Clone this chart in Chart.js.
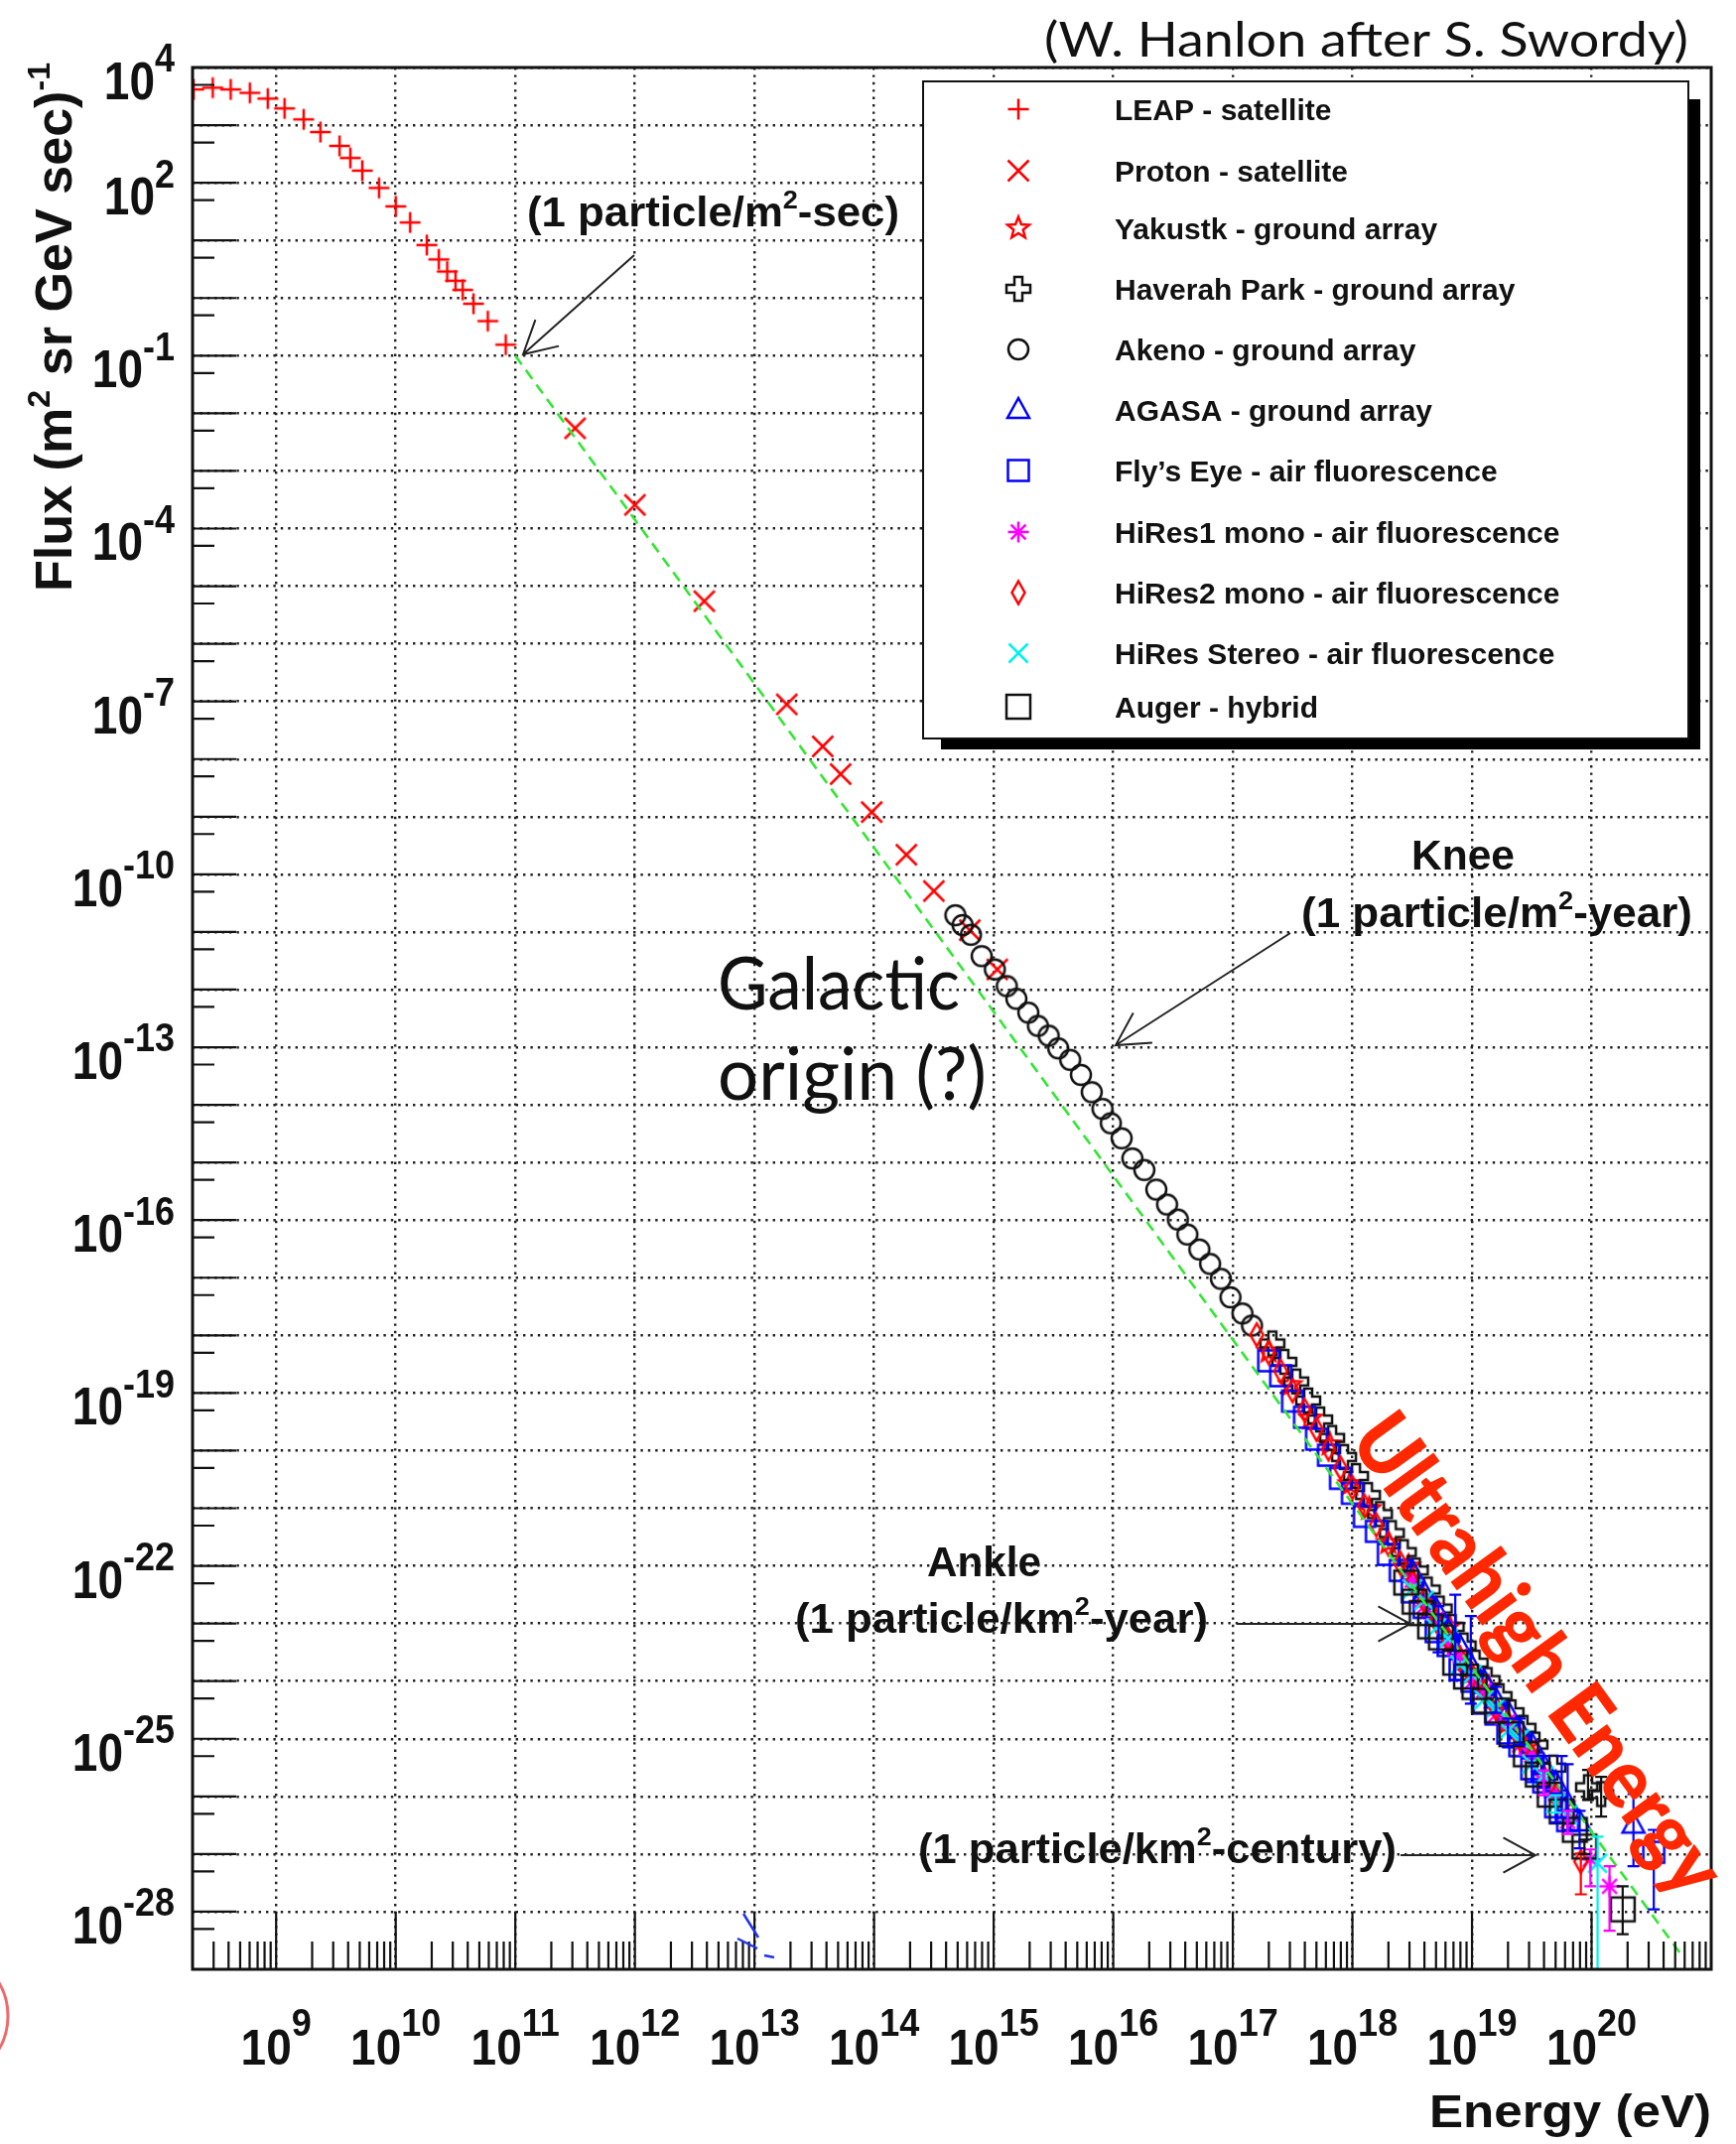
<!DOCTYPE html>
<html>
<head>
<meta charset="utf-8">
<title>Cosmic ray energy spectrum</title>
<script src="https://cdn.jsdelivr.net/npm/chart.js@4.4.1/dist/chart.umd.min.js"></script>
<style>
  html, body { margin: 0; padding: 0; background: #fff; }
  #wrap { width: 1749px; height: 2160px; }
</style>
</head>
<body>
<div id="wrap"><canvas id="fluxChart" width="1749" height="2160"></canvas></div>
<script>
// values as log10(E / eV) and log10(flux)
var leapLogE = [8.31, 8.47, 8.62, 8.78, 8.93, 9.07, 9.23, 9.37, 9.53, 9.62, 9.72, 9.86, 10.00, 10.12, 10.26, 10.36, 10.43, 10.50, 10.56, 10.65, 10.77, 10.92];
var leapLogFlux = [3.62, 3.65, 3.62, 3.56, 3.46, 3.29, 3.10, 2.88, 2.64, 2.43, 2.21, 1.91, 1.59, 1.31, 0.92, 0.67, 0.46, 0.30, 0.14, -0.10, -0.40, -0.81];

var protonLogE = [11.50, 12.00, 12.58, 13.27, 13.57, 13.72, 13.98, 14.27, 14.50, 14.80, 15.03];
var protonLogFlux = [-2.26, -3.59, -5.26, -7.05, -7.78, -8.26, -8.92, -9.66, -10.29, -10.97, -11.65];

var yakutskLogE = [17.30, 17.48, 17.65, 17.81, 17.98, 18.14, 18.30, 18.47, 18.64, 18.81, 18.97, 19.14, 19.30, 19.47, 19.60, 19.76];
var yakutskLogFlux = [-18.28, -18.86, -19.44, -19.89, -20.58, -21.01, -21.60, -22.01, -22.72, -23.05, -23.85, -24.11, -24.72, -25.11, -25.64, -26.15];

var haverahLogE = [17.33, 17.43, 17.53, 17.63, 17.73, 17.83, 17.93, 18.03, 18.13, 18.23, 18.33, 18.43, 18.53, 18.63, 18.73, 18.83, 18.93, 19.03, 19.13, 19.23, 19.33, 19.43, 19.53, 19.68, 19.97, 20.08];
var haverahLogFlux = [-18.14, -18.46, -18.80, -19.13, -19.46, -19.78, -20.11, -20.44, -20.77, -21.10, -21.43, -21.76, -22.08, -22.41, -22.74, -23.06, -23.38, -23.68, -23.98, -24.26, -24.54, -24.81, -25.10, -25.50, -25.84, -25.96];

var akenoLogE = [14.68, 14.74, 14.81, 14.90, 15.01, 15.11, 15.19, 15.29, 15.37, 15.46, 15.54, 15.64, 15.73, 15.82, 15.91, 15.98, 16.07, 16.16, 16.26, 16.36, 16.45, 16.54, 16.62, 16.72, 16.81, 16.90, 16.98, 17.08, 17.16];
var akenoLogFlux = [-10.71, -10.88, -11.05, -11.42, -11.65, -11.94, -12.16, -12.40, -12.63, -12.80, -13.02, -13.22, -13.48, -13.78, -14.07, -14.32, -14.58, -14.93, -15.13, -15.47, -15.73, -15.99, -16.25, -16.51, -16.76, -17.02, -17.34, -17.62, -17.83];

var agasaLogE = [18.5, 18.6, 18.7, 18.8, 18.9, 19.0, 19.1, 19.2, 19.3, 19.4, 19.5, 19.6, 19.7, 19.8, 19.9, 20.35];
var agasaLogFlux = [-22.10, -22.47, -22.76, -23.12, -23.40, -23.76, -24.00, -24.32, -24.54, -24.85, -25.10, -25.47, -25.76, -26.12, -26.45, -26.49];

var flysEyeLogE = [17.3, 17.4, 17.5, 17.6, 17.7, 17.8, 17.9, 18.0, 18.1, 18.2, 18.3, 18.4, 18.5, 18.6, 18.7, 18.8, 18.9, 19.0, 19.1, 19.2, 19.3, 19.4, 19.5, 19.6, 19.7, 19.8, 20.52];
var flysEyeLogFlux = [-18.44, -18.70, -19.14, -19.42, -19.80, -20.08, -20.48, -20.74, -21.14, -21.40, -21.80, -22.08, -22.45, -22.72, -23.14, -23.38, -23.80, -24.00, -24.38, -24.57, -24.90, -25.12, -25.52, -25.75, -26.18, -26.42, -26.97];

var hires1LogE = [18.5, 18.6, 18.7, 18.8, 18.9, 19.0, 19.1, 19.2, 19.3, 19.4, 19.5, 19.6, 19.7, 19.8, 19.99, 20.15];
var hires1LogFlux = [-22.25, -22.70, -22.92, -23.38, -23.56, -24.01, -24.16, -24.58, -24.70, -25.11, -25.28, -25.76, -25.95, -26.43, -27.09, -27.56];

var hires2LogE = [17.2, 17.3, 17.4, 17.5, 17.6, 17.7, 17.8, 17.9, 18.0, 18.1, 18.2, 18.3, 18.4, 18.5, 18.6, 18.7, 18.8, 18.9, 19.0, 19.1, 19.2, 19.3, 19.4, 19.5, 19.7, 19.91];
var hires2LogFlux = [-17.99, -18.30, -18.62, -18.96, -19.30, -19.63, -19.97, -20.30, -20.64, -20.96, -21.29, -21.62, -21.95, -22.28, -22.60, -22.95, -23.27, -23.60, -23.90, -24.18, -24.47, -24.72, -25.00, -25.30, -25.98, -27.13];

var stereoLogE = [18.5, 18.6, 18.7, 18.8, 18.9, 19.0, 19.1, 19.2, 19.3, 19.4, 19.5, 19.6, 19.7, 19.8, 20.05];
var stereoLogFlux = [-22.40, -22.60, -23.08, -23.26, -23.72, -23.89, -24.32, -24.46, -24.86, -25.00, -25.44, -25.64, -26.12, -26.32, -27.16];

var augerLogE = [18.45, 18.52, 18.58, 18.65, 18.74, 18.86, 18.95, 19.02, 19.10, 19.21, 19.33, 19.45, 19.55, 19.65, 19.75, 19.86, 19.94, 20.26];
var augerLogFlux = [-22.29, -22.62, -22.82, -23.05, -23.24, -23.68, -23.92, -24.10, -24.34, -24.51, -24.92, -25.27, -25.62, -25.97, -26.26, -26.58, -26.87, -27.96];

// error bars: [log10 E, log10 upper flux, log10 lower flux]
var flysEyeErr = [[18.72, -22.70, -23.50], [18.86, -22.50, -23.98], [18.99, -22.87, -24.39], [19.3, -24.65, -25.15], [19.5, -25.30, -25.75], [19.7, -25.95, -26.45], [20.52, -26.58, -27.96]];
var agasaErr = [[19.2, -24.10, -24.55], [19.4, -24.65, -25.10], [19.6, -25.30, -25.85], [19.75, -25.30, -26.37], [19.80, -25.44, -26.58], [19.9, -26.25, -26.90], [20.35, -25.96, -27.21]];
var haverahErr = [[19.97, -25.54, -26.06], [20.08, -25.66, -26.35]];
var hires1Err = [[19.6, -25.55, -25.98], [19.8, -26.25, -26.65], [19.99, -26.92, -27.56], [20.15, -27.21, -28.33]];
var hires2Err = [[19.91, -26.99, -27.70]];
var stereoErr = [[19.7, -25.98, -26.28], [20.05, -26.70, -29.50]];
var augerErr = [[19.94, -26.75, -27.00], [20.26, -27.56, -28.39]];

// dashed E^-2.85 reference line, two end points
var powerLawE = [1e11, 5.5e20];
var powerLawFlux = [1e-1, 1.9e-29];

var xTickExp = [9, 10, 11, 12, 13, 14, 15, 16, 17, 18, 19, 20];
var yTickExp = [4, 2, -1, -4, -7, -10, -13, -16, -19, -22, -25, -28];

var RED = '#ff0000', BLUE = '#0000ff', BLACK = '#111111', MAGENTA = '#ff00ff', CYAN = '#00f0f0';

function makeMarker(kind, color) {
  var size = 36;
  var c = document.createElement('canvas');
  c.width = size; c.height = size;
  var g = c.getContext('2d');
  g.translate(size / 2, size / 2);
  g.strokeStyle = color;
  g.lineWidth = 2.5;
  g.lineJoin = 'miter';
  g.beginPath();
  var i, r, ang;
  if (kind === 'plus') {
    g.moveTo(-10.5, 0); g.lineTo(10.5, 0); g.moveTo(0, -10.5); g.lineTo(0, 10.5);
  } else if (kind === 'cross') {
    g.moveTo(-10.5, -10.5); g.lineTo(10.5, 10.5); g.moveTo(10.5, -10.5); g.lineTo(-10.5, 10.5);
  } else if (kind === 'smallcross') {
    g.moveTo(-9.5, -9.5); g.lineTo(9.5, 9.5); g.moveTo(9.5, -9.5); g.lineTo(-9.5, 9.5);
  } else if (kind === 'circle') {
    g.arc(0, 0, 10, 0, Math.PI * 2);
  } else if (kind === 'square') {
    g.rect(-10.5, -10.5, 21, 21);
  } else if (kind === 'bigsquare') {
    g.rect(-12, -12, 24, 24);
  } else if (kind === 'triangle') {
    g.moveTo(0, -12); g.lineTo(11, 8); g.lineTo(-11, 8); g.closePath();
  } else if (kind === 'diamond') {
    g.moveTo(0, -11.5); g.lineTo(6.5, 0); g.lineTo(0, 11.5); g.lineTo(-6.5, 0); g.closePath();
  } else if (kind === 'asterisk') {
    for (i = 0; i < 4; i++) {
      ang = i * Math.PI / 4;
      g.moveTo(-10.5 * Math.cos(ang), -10.5 * Math.sin(ang));
      g.lineTo(10.5 * Math.cos(ang), 10.5 * Math.sin(ang));
    }
  } else if (kind === 'star') {
    for (i = 0; i < 10; i++) {
      r = i % 2 === 0 ? 11.5 : 5;
      ang = -Math.PI / 2 + i * Math.PI / 5;
      if (i === 0) g.moveTo(r * Math.cos(ang), r * Math.sin(ang));
      else g.lineTo(r * Math.cos(ang), r * Math.sin(ang));
    }
    g.closePath();
  } else if (kind === 'opencross') {
    var a = 4, b = 12;
    var pts = [[-a, -b], [a, -b], [a, -a], [b, -a], [b, a], [a, a], [a, b], [-a, b], [-a, a], [-b, a], [-b, -a], [-a, -a]];
    pts.forEach(function (p, k) { if (k === 0) g.moveTo(p[0], p[1]); else g.lineTo(p[0], p[1]); });
    g.closePath();
  }
  g.stroke();
  return c;
}

var series = [
  { label: 'LEAP - satellite', e: leapLogE, f: leapLogFlux, marker: makeMarker('plus', RED) },
  { label: 'Proton - satellite', e: protonLogE, f: protonLogFlux, marker: makeMarker('cross', RED) },
  { label: 'Yakustk - ground array', e: yakutskLogE, f: yakutskLogFlux, marker: makeMarker('star', RED) },
  { label: 'Haverah Park - ground array', e: haverahLogE, f: haverahLogFlux, marker: makeMarker('opencross', BLACK), err: haverahErr, color: BLACK },
  { label: 'Akeno - ground array', e: akenoLogE, f: akenoLogFlux, marker: makeMarker('circle', BLACK) },
  { label: 'AGASA - ground array', e: agasaLogE, f: agasaLogFlux, marker: makeMarker('triangle', BLUE), err: agasaErr, color: BLUE },
  { label: 'Fly\u2019s Eye - air fluorescence', e: flysEyeLogE, f: flysEyeLogFlux, marker: makeMarker('square', BLUE), err: flysEyeErr, color: BLUE },
  { label: 'HiRes1 mono - air fluorescence', e: hires1LogE, f: hires1LogFlux, marker: makeMarker('asterisk', MAGENTA), err: hires1Err, color: MAGENTA },
  { label: 'HiRes2 mono - air fluorescence', e: hires2LogE, f: hires2LogFlux, marker: makeMarker('diamond', RED), err: hires2Err, color: RED },
  { label: 'HiRes Stereo - air fluorescence', e: stereoLogE, f: stereoLogFlux, marker: makeMarker('smallcross', CYAN), err: stereoErr, color: CYAN },
  { label: 'Auger - hybrid', e: augerLogE, f: augerLogFlux, marker: makeMarker('bigsquare', BLACK), err: augerErr, color: BLACK }
];

function toPoints(logE, logF) {
  return logE.map(function (e, i) { return { x: Math.pow(10, e), y: Math.pow(10, logF[i]) }; });
}

// text with superscripts; parts = [[text, isSup], ...]
function drawRich(ctx, parts, x, y, o) {
  var fam = o.family || 'Liberation Sans';
  var weight = (o.weight || (o.bold === false ? 'normal' : 'bold')) + ' ';
  var supSize = o.supSize || Math.round(o.size * 0.62);
  var rise = o.rise || o.size * 0.42;
  function font(sup) { return weight + (sup ? supSize : o.size) + 'px "' + fam + '"'; }
  var nat = 0;
  parts.forEach(function (p) { ctx.font = font(p[1]); nat += ctx.measureText(p[0]).width; });
  var sx = o.width ? o.width / nat : 1;
  var total = nat * sx;
  var x0 = o.align === 'center' ? x - total / 2 : (o.align === 'right' ? x - total : x);
  ctx.save();
  ctx.translate(x0, y);
  ctx.scale(sx, o.vscale || 1);
  ctx.fillStyle = o.color || '#111';
  ctx.textAlign = 'left';
  ctx.textBaseline = 'alphabetic';
  var cx = 0;
  parts.forEach(function (p) {
    ctx.font = font(p[1]);
    ctx.fillText(p[0], cx, p[1] ? -rise : 0);
    cx += ctx.measureText(p[0]).width;
  });
  ctx.restore();
}

function drawArrow(ctx, x1, y1, x2, y2) {
  var ang = Math.atan2(y2 - y1, x2 - x1), len = 37, spread = 0.5;
  ctx.beginPath();
  ctx.moveTo(x1, y1); ctx.lineTo(x2, y2);
  ctx.moveTo(x2 - len * Math.cos(ang - spread), y2 - len * Math.sin(ang - spread));
  ctx.lineTo(x2, y2);
  ctx.lineTo(x2 - len * Math.cos(ang + spread), y2 - len * Math.sin(ang + spread));
  ctx.stroke();
}

var decorations = {
  id: 'decorations',
  beforeDraw: function (chart) {
    var ctx = chart.ctx;
    ctx.save();
    ctx.fillStyle = '#fff';
    ctx.fillRect(0, 0, chart.width, chart.height);
    ctx.restore();
  },
  afterDatasetsDraw: function (chart) {
    var ctx = chart.ctx, xs = chart.scales.x, ys = chart.scales.y, area = chart.chartArea;
    ctx.save();
    series.forEach(function (s) {
      if (!s.err) return;
      ctx.strokeStyle = s.color;
      ctx.lineWidth = 2.2;
      s.err.forEach(function (b) {
        var x = xs.getPixelForValue(Math.pow(10, b[0]));
        var yTop = ys.getPixelForValue(Math.pow(10, b[1]));
        var yBot = ys.getPixelForValue(Math.pow(10, b[2]));
        ctx.beginPath();
        ctx.moveTo(x, yTop); ctx.lineTo(x, Math.min(yBot, area.bottom));
        ctx.moveTo(x - 6, yTop); ctx.lineTo(x + 6, yTop);
        if (yBot < area.bottom) { ctx.moveTo(x - 6, yBot); ctx.lineTo(x + 6, yBot); }
        ctx.stroke();
      });
    });
    ctx.restore();
  },
  afterDraw: function (chart) {
    var ctx = chart.ctx, xs = chart.scales.x, ys = chart.scales.y, a = chart.chartArea;
    var p, k, d, v, yy, xx;
    ctx.save();

    // frame and inward ticks
    ctx.strokeStyle = '#111';
    ctx.lineWidth = 2.2;
    ctx.beginPath();
    for (p = -28; p <= 4; p++) {
      yy = ys.getPixelForValue(Math.pow(10, p));
      ctx.moveTo(a.left, yy); ctx.lineTo(a.left + 44, yy);
      yy = ys.getPixelForValue(5 * Math.pow(10, p - 1));
      if (yy > a.top && yy < a.bottom) { ctx.moveTo(a.left, yy); ctx.lineTo(a.left + 22, yy); }
    }
    for (d = 8; d <= 20; d++) {
      for (k = 1; k <= 9; k++) {
        v = k * Math.pow(10, d);
        if (v <= xs.min || v >= xs.max) continue;
        xx = xs.getPixelForValue(v);
        ctx.moveTo(xx, a.bottom); ctx.lineTo(xx, a.bottom - (k === 1 ? 58 : 28));
      }
    }
    ctx.stroke();
    ctx.lineWidth = 3;
    ctx.strokeRect(a.left, a.top, a.right - a.left, a.bottom - a.top);

    // tick labels
    yTickExp.forEach(function (e) {
      var y = ys.getPixelForValue(Math.pow(10, e));
      drawRich(ctx, [['10', 0], [String(e), 1]], 176, y + 32, { size: 46, supSize: 36, rise: 24, align: 'right', vscale: 1.15 });
    });
    xTickExp.forEach(function (e) {
      var x = xs.getPixelForValue(Math.pow(10, e));
      drawRich(ctx, [['10', 0], [String(e), 1]], x, 2080, { size: 46, supSize: 36, rise: 26, align: 'center', vscale: 1.1 });
    });

    // axis titles
    drawRich(ctx, [['Energy (eV)', 0]], a.right, 2143, { size: 46, align: 'right', width: 284 });
    ctx.save();
    ctx.translate(72, 596);
    ctx.rotate(-Math.PI / 2);
    drawRich(ctx, [['Flux (m', 0], ['2', 1], [' sr GeV sec)', 0], ['-1', 1]], 0, 0, { size: 52, width: 533 });
    ctx.restore();

    // legend
    ctx.fillStyle = '#000';
    ctx.fillRect(948, 100, 765, 655);
    ctx.fillStyle = '#fff';
    ctx.fillRect(930, 82, 771, 662);
    ctx.lineWidth = 2;
    ctx.strokeStyle = '#111';
    ctx.strokeRect(930, 82, 771, 662);
    var rows = [110, 172, 230, 291, 352, 413, 474, 536, 597, 658, 712];
    series.forEach(function (s, i) {
      ctx.drawImage(s.marker, 1026 - s.marker.width / 2, rows[i] - s.marker.height / 2);
      drawRich(ctx, [[s.label, 0]], 1123, rows[i] + 11, { size: 30 });
    });

    // annotations
    ctx.strokeStyle = '#222';
    ctx.lineWidth = 2;
    drawArrow(ctx, 639, 257, 527, 357);
    drawArrow(ctx, 1300, 940, 1124, 1053);
    drawArrow(ctx, 1246, 1636, 1421, 1636);
    drawArrow(ctx, 1411, 1869, 1547, 1869);

    drawRich(ctx, [['(1 particle/m', 0], ['2', 1], ['-sec)', 0]], 531, 228, { size: 42, width: 375 });
    drawRich(ctx, [['Knee', 0]], 1474, 876, { size: 42, align: 'center', width: 104 });
    drawRich(ctx, [['(1 particle/m', 0], ['2', 1], ['-year)', 0]], 1311, 934, { size: 42, width: 394 });
    drawRich(ctx, [['Ankle', 0]], 934, 1588, { size: 42, width: 115 });
    drawRich(ctx, [['(1 particle/km', 0], ['2', 1], ['-year)', 0]], 801, 1645, { size: 42, width: 416 });
    drawRich(ctx, [['(1 particle/km', 0], ['2', 1], ['-century)', 0]], 925, 1877, { size: 42, width: 482 });

    drawRich(ctx, [['Galactic', 0]], 723, 1017, { size: 73, family: 'Lato', bold: false, width: 244 });
    drawRich(ctx, [['origin (?)', 0]], 723, 1108, { size: 73, family: 'Lato', bold: false, width: 271 });
    drawRich(ctx, [['(W. Hanlon after S. Swordy)', 0]], 1052, 57, { size: 48, family: 'Lato', bold: false, width: 649 });

    ctx.save();
    ctx.translate(1551, 1666);
    ctx.rotate(54 * Math.PI / 180);
    drawRich(ctx, [['Ultrahigh Energy', 0]], 0, 30, { size: 84, family: 'Lato', weight: '900', align: 'center', width: 575, color: 'rgb(255,40,0)' });
    ctx.restore();

    // stray marks from the source image
    ctx.strokeStyle = '#2233ee';
    ctx.lineWidth = 2.5;
    ctx.beginPath();
    ctx.moveTo(749, 1928); ctx.lineTo(764, 1952);
    ctx.moveTo(743, 1953); ctx.lineTo(763, 1963);
    ctx.moveTo(770, 1970); ctx.lineTo(780, 1972);
    ctx.stroke();
    ctx.strokeStyle = 'rgba(235,80,80,0.85)';
    ctx.lineWidth = 3;
    ctx.beginPath();
    ctx.arc(-58, 2031, 66, 0, Math.PI * 2);
    ctx.stroke();

    ctx.restore();
  }
};

document.addEventListener('DOMContentLoaded', function () {
  var datasets = series.map(function (s, i) {
    return {
      label: s.label,
      data: toPoints(s.e, s.f),
      pointStyle: s.marker,
      pointRadius: 10,
      pointHoverRadius: 10,
      showLine: false,
      order: series.length - i
    };
  });
  datasets.push({
    label: 'power law',
    data: powerLawE.map(function (e, i) { return { x: e, y: powerLawFlux[i] }; }),
    showLine: true,
    borderColor: '#33e633',
    borderWidth: 2.6,
    borderDash: [11, 7],
    pointRadius: 0,
    order: 0
  });

  var gridOpts = { color: '#222', lineWidth: 2.4, drawTicks: false };
  var ctx = document.getElementById('fluxChart').getContext('2d');
  var fluxChart = new Chart(ctx, {
    type: 'scatter',
    data: { datasets: datasets },
    options: {
      responsive: false,
      animation: false,
      layout: { padding: { left: 194, top: 68, right: 25, bottom: 176 } },
      plugins: { legend: { display: false }, tooltip: { enabled: false } },
      scales: {
        x: {
          type: 'logarithmic',
          min: 2e8,
          max: 1e21,
          ticks: { display: false, autoSkip: false },
          grid: gridOpts,
          border: { display: false, dash: [2.4, 5] },
          afterBuildTicks: function (scale) {
            scale.ticks = xTickExp.map(function (e) { return { value: Math.pow(10, e) }; });
          }
        },
        y: {
          type: 'logarithmic',
          min: 1e-29,
          max: 1e4,
          ticks: { display: false, autoSkip: false },
          grid: gridOpts,
          border: { display: false, dash: [2.4, 5] },
          afterBuildTicks: function (scale) {
            var t = [];
            for (var p = -28; p <= 4; p++) t.push({ value: Math.pow(10, p) });
            scale.ticks = t;
          }
        }
      }
    },
    plugins: [decorations]
  });
});
</script>
</body>
</html>
